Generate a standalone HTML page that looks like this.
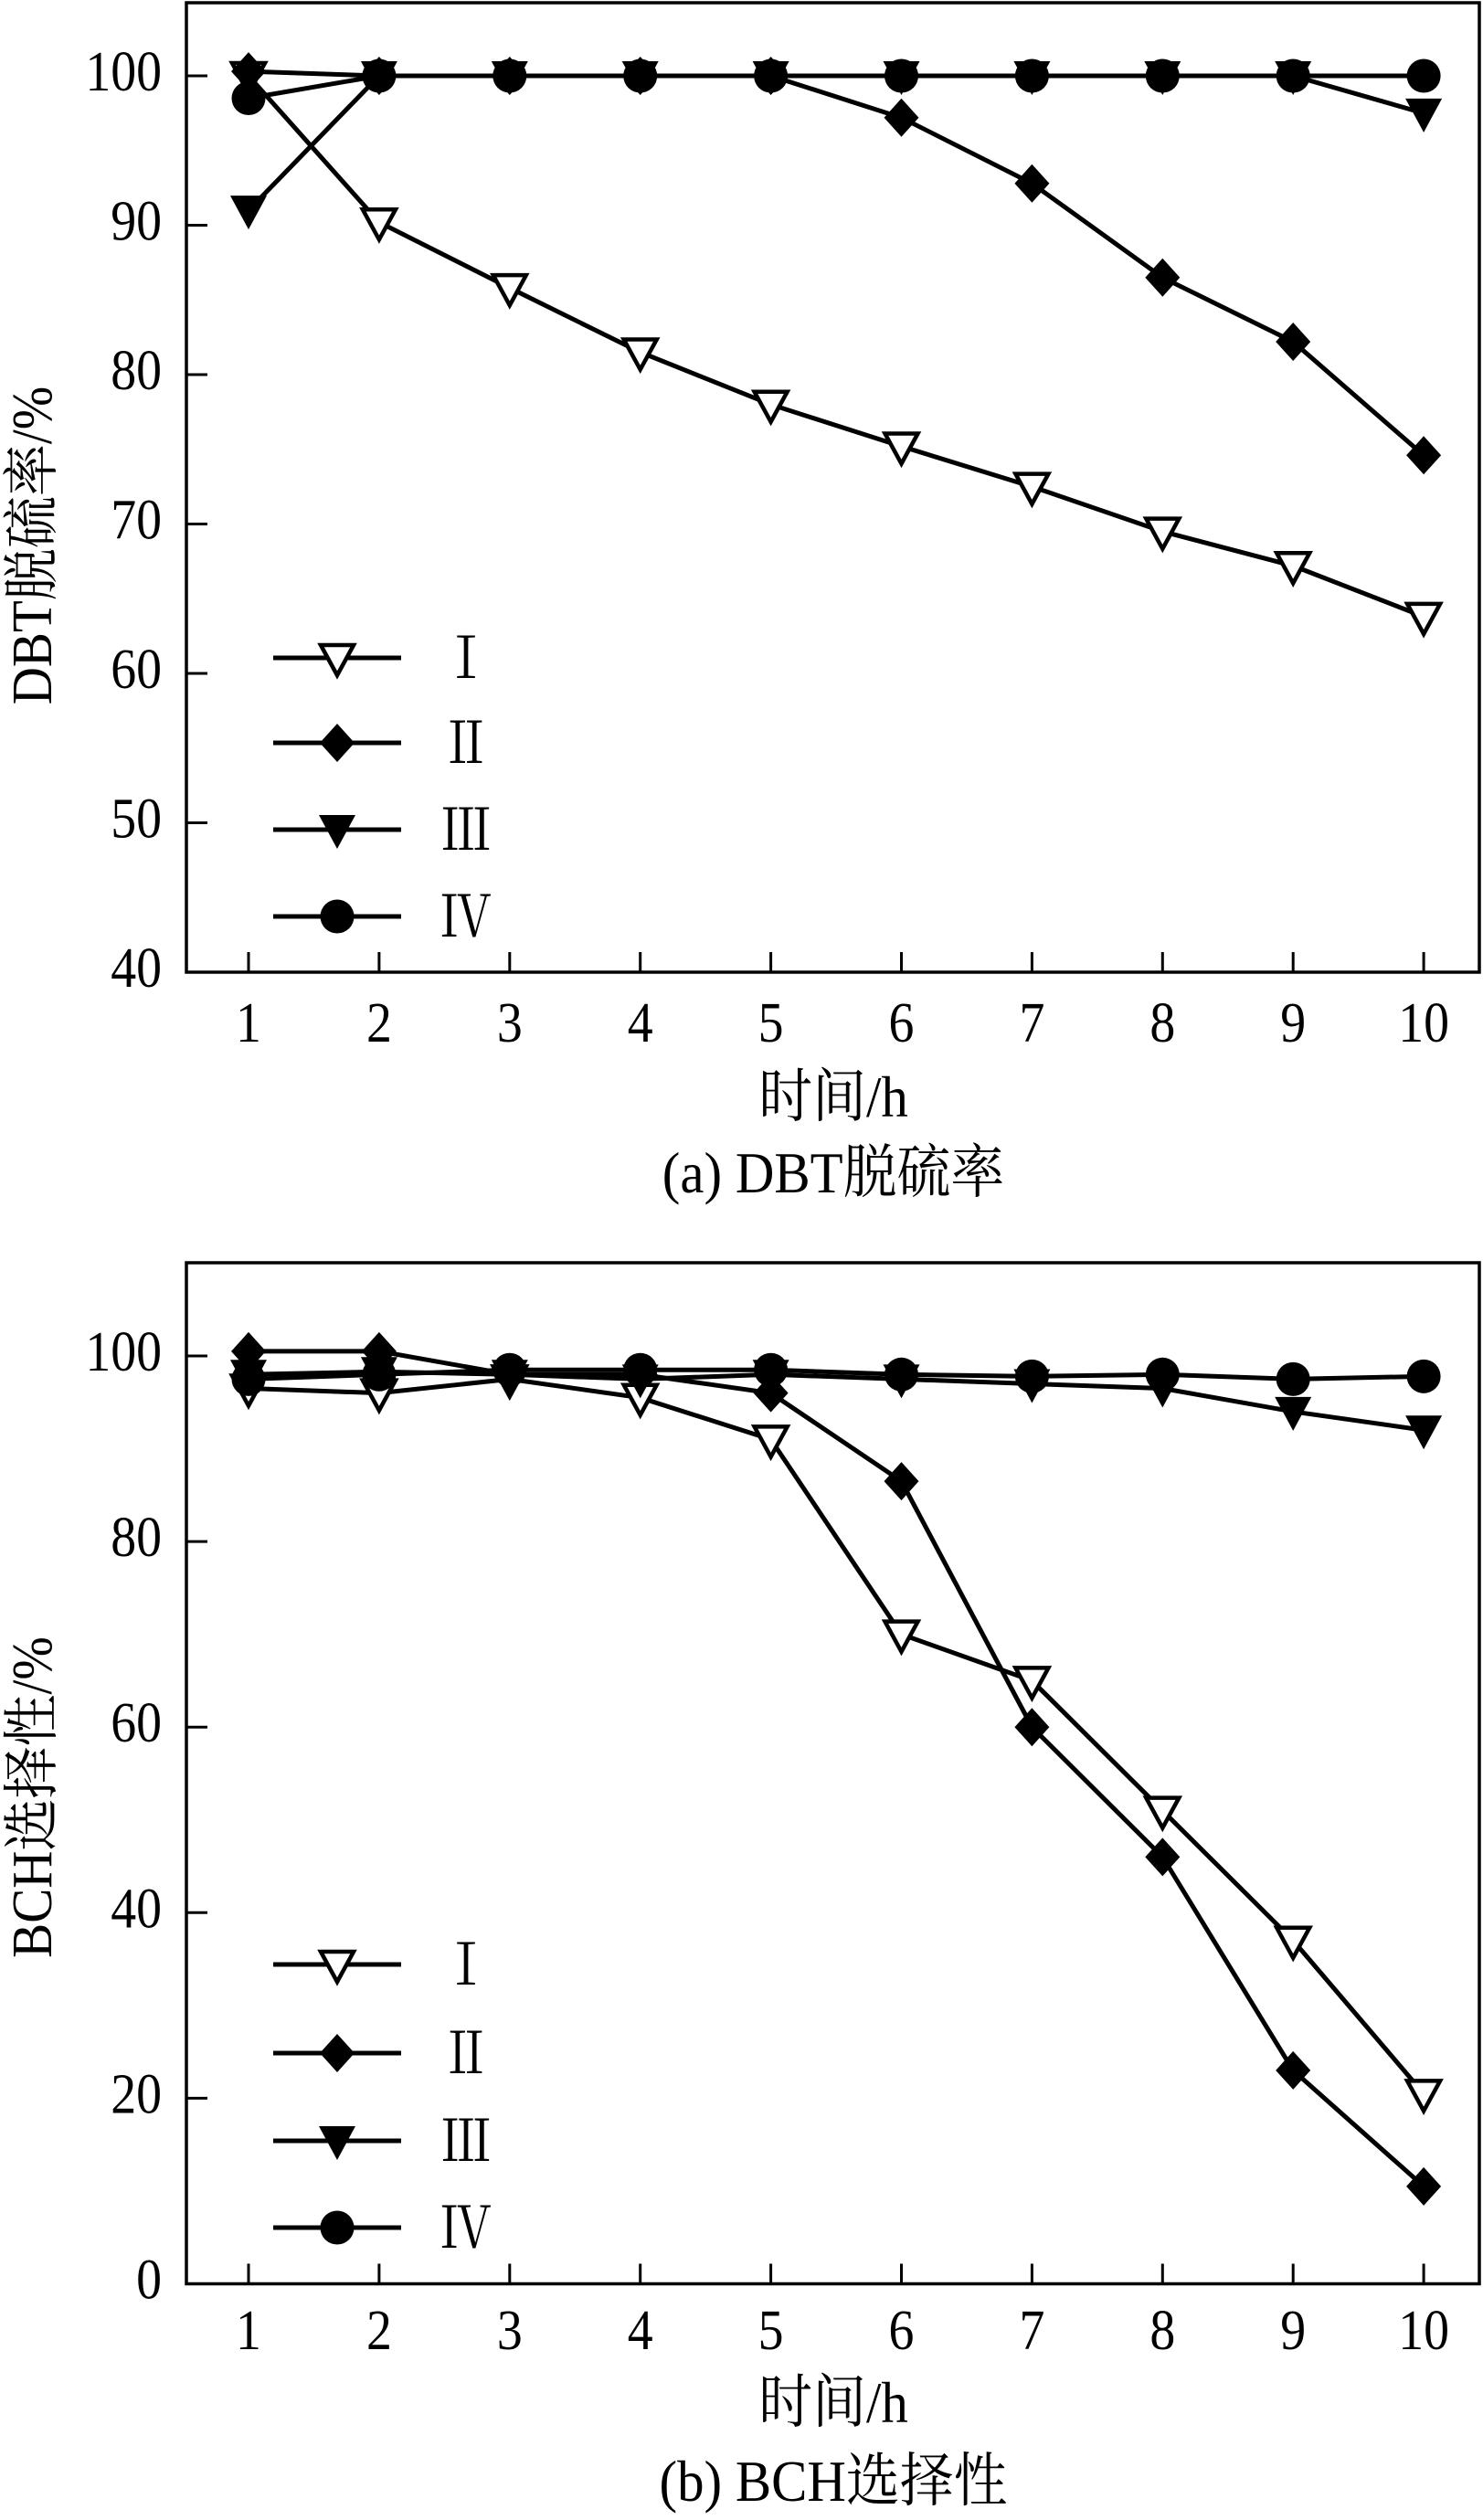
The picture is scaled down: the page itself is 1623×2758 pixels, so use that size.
<!DOCTYPE html>
<html><head><meta charset="utf-8"><style>
html,body{margin:0;padding:0;background:#fff;}
svg text{font-family:"Liberation Serif","Noto Serif CJK SC",serif;fill:#000;}
</style></head><body>
<svg id="fig" width="1623" height="2753" viewBox="0 0 1623 2753" xmlns="http://www.w3.org/2000/svg"></svg>
<script>
const xCats=[1,2,3,4,5,6,7,8,9,10];
const seriesNames=["Ⅰ","Ⅱ","Ⅲ","Ⅳ"];
const markers=["triOpen","diamond","triFill","circle"];
const aI=[100,90.2,85.8,81.5,78,75.2,72.5,69.5,67.2,63.8];
const aII=[100.3,100,100,100,100,97.2,92.8,86.5,82.2,74.6];
const aIII=[91,100,100,100,100,100,100,100,100,97.5];
const aIV=[98.5,100,100,100,100,100,100,100,100,100];
const bI=[96.5,96,97.5,95.5,91,70,65,51,37,20.5];
const bII=[100.5,100.5,98,98,96,86.5,60,46,23,10.5];
const bIII=[98,98.3,98,97.5,98,97.5,97,96.5,94,92];
const bIV=[97.5,98,98.5,98.5,98.5,98,97.8,98,97.5,97.8];
const aTicks=[40,50,60,70,80,90,100];
const bTicks=[0,20,40,60,80,100];

const NS="http://www.w3.org/2000/svg";
const svg=document.getElementById('fig');
function el(t,a,p){const e=document.createElementNS(NS,t);for(const k in a)e.setAttribute(k,a[k]);(p||svg).appendChild(e);return e;}
function txt(g,x,y,size,anchor,sx,content,rot){
  const t=el('text',{x:0,y:0,'font-size':size,'text-anchor':anchor,transform:`translate(${x},${y}) ${rot?'rotate(-90)':''} scale(${sx},1)`},g);
  t.textContent=content;return t;
}
function marker(g,type,x,y){
  let m;
  if(type==="triOpen"){m=el('polygon',{points:`${x-18},${y-14} ${x+18},${y-14} ${x},${y+19}`,fill:'#fff',stroke:'#000','stroke-width':4.5},g);}
  else if(type==="triFill"){m=el('polygon',{points:`${x-20},${y-16} ${x+20},${y-16} ${x},${y+21}`,fill:'#000'},g);}
  else if(type==="diamond"){m=el('polygon',{points:`${x},${y-21} ${x+19},${y} ${x},${y+21} ${x-19},${y}`,fill:'#000'},g);}
  else {m=el('circle',{cx:x,cy:y,r:18.5,fill:'#000'},g);}
  
  
}
function chart(cfg){
  const g=el('g',{});
  
  
  const X=v=>272+(v-1)*142.9;
  const Y=v=>cfg.y0px+(v-cfg.ymin)/(cfg.ymax-cfg.ymin)*(cfg.y1px-cfg.y0px);
  const f=el('rect',{x:204,y:cfg.top,width:1415,height:cfg.y0px-cfg.top,fill:'none',stroke:'#000','stroke-width':3.5},g);
  
  xCats.forEach(c=>{
    const t=el('line',{x1:X(c),x2:X(c),y1:cfg.y0px,y2:cfg.y0px-22,stroke:'#000','stroke-width':3},g);
    
    const l=txt(g,X(c),cfg.xlab,62,'middle',0.9,c);
    
  });
  cfg.ticks.forEach(v=>{
    const t=el('line',{x1:204,x2:227,y1:Y(v),y2:Y(v),stroke:'#000','stroke-width':3},g);
    
    const l=txt(g,177,Y(v)+16,62,'end',0.9,v);
    
  });
  cfg.series.forEach((s,i)=>{
    const p=el('polyline',{points:s.map((v,j)=>X(xCats[j])+','+Y(v)).join(' '),fill:'none',stroke:'#000','stroke-width':5},g);
    
  });
  cfg.series.forEach((s,i)=>{s.forEach((v,j)=>marker(g,markers[i],X(xCats[j]),Y(v)));});
  cfg.legY.forEach((ly,i)=>{
    const l=el('line',{x1:299,x2:439,y1:ly,y2:ly,stroke:'#000','stroke-width':5},g);
    
    marker(g,markers[i],369,ly);
    const t=txt(g,510,ly+22,62,'middle',0.9,seriesNames[i]);
    
  });
  const yt=txt(g,56,cfg.ytitleY,62,'middle',0.92,cfg.ytitle,true);
  
  const xt=txt(g,912,cfg.xtitle,64,'middle',0.92,'时间/h');
  
  const cp=txt(g,912,cfg.cap,64,'middle',0.92,cfg.caption);
  
}
chart({name:'chart-a',top:3,y0px:1064,y1px:83,ymin:40,ymax:100,ticks:aTicks,series:[aI,aII,aIII,aIV],
  xlab:1140,xtitle:1222,cap:1305,legY:[720,813,908,1003],ytitle:'DBT脱硫率/%',ytitleY:597,caption:'(a) DBT脱硫率'});
chart({name:'chart-b',top:1382,y0px:2499.5,y1px:1484,ymin:0,ymax:100,ticks:bTicks,series:[bI,bII,bIII,bIV],
  xlab:2571,xtitle:2651,cap:2737,legY:[2150,2247,2343,2438],ytitle:'BCH选择性/%',ytitleY:1967,caption:'(b) BCH选择性'});
</script>
</body></html>
